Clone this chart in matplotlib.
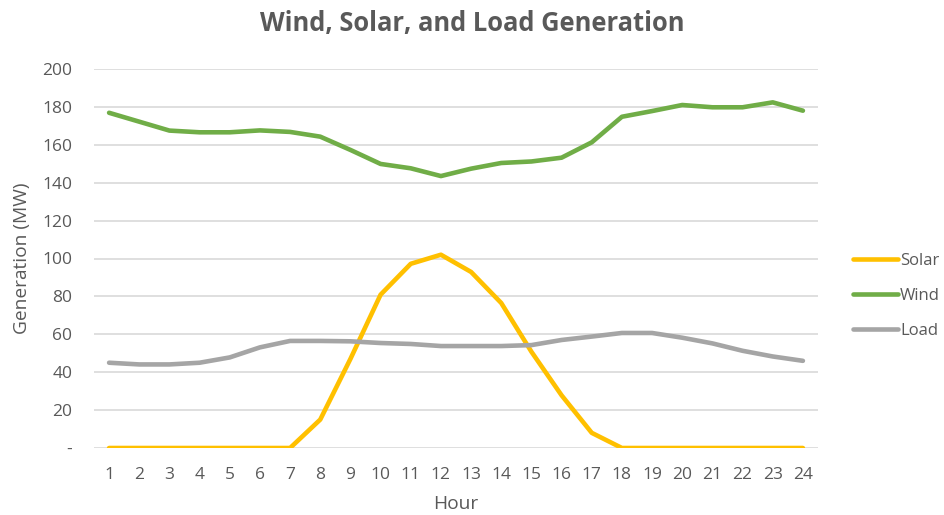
import matplotlib
matplotlib.use("Agg")
import matplotlib.pyplot as plt

hours = list(range(1, 25))
solar = [0, 0, 0, 0, 0, 0, 0, 15, 47, 80.9, 97.2, 102, 92.9, 76.5, 50.8, 27.8, 8, 0, 0, 0, 0, 0, 0, 0]
wind = [176.9, 172.2, 167.5, 166.6, 166.6, 167.6, 166.8, 164.3, 157.3, 149.9, 147.6, 143.5,
        147.4, 150.4, 151.2, 153.2, 161.3, 174.8, 177.8, 181, 179.8, 179.8, 182.4, 178]
load = [45, 44.1, 44.1, 45, 47.8, 53.1, 56.5, 56.5, 56.3, 55.4, 54.9, 53.8,
        53.8, 53.8, 54.3, 57, 58.8, 60.7, 60.7, 58.2, 55.2, 51.3, 48.3, 46]
yticks = [0, 20, 40, 60, 80, 100, 120, 140, 160, 180, 200]
ytick_labels = ["-", "20", "40", "60", "80", "100", "120", "140", "160", "180", "200"]

plt.rcParams['font.family'] = ['Open Sans', 'DejaVu Sans']
txt = '#595959'

fig = plt.figure(figsize=(9.44, 5.15), dpi=100)
ax = fig.add_axes([94/944, 1-448/515, (818-94)/944, (448-69)/515])

lw = 3.3
ax.plot(hours, solar, color='#FFC000', lw=lw, label='Solar', solid_capstyle='round', solid_joinstyle='round')
ax.plot(hours, wind, color='#70AD47', lw=lw, label='Wind', solid_capstyle='round', solid_joinstyle='round')
ax.plot(hours, load, color='#A5A5A5', lw=lw, label='Load', solid_capstyle='round', solid_joinstyle='round')

ax.set_xlim(0.5, 24.5)
ax.set_ylim(0, 200)
ax.set_yticks(yticks)
ax.set_yticklabels(ytick_labels)
ax.set_xticks(hours)
ax.set_xticklabels([str(h) for h in hours])
ax.grid(axis='y', color='#D9D9D9', lw=1.2)
ax.set_axisbelow(True)
for s in ax.spines.values():
    s.set_visible(False)
ax.tick_params(length=0, colors=txt, labelsize=12.5)
ax.tick_params(axis='y', pad=15.5)
ax.tick_params(axis='x', pad=14)
ax.set_xlabel('Hour', color=txt, fontsize=13.8, labelpad=8)
ax.set_ylabel('Generation (MW)', color=txt, fontsize=13.8, labelpad=8)

fig.text(472/944, 1-24/515, 'Wind, Solar, and Load Generation', ha='center', va='center',
         fontsize=18.4, fontweight='bold', color=txt)

leg = fig.legend(loc='center left', bbox_to_anchor=(840/944, 1-296/515), frameon=False,
                 fontsize=12, labelcolor=txt, handlelength=2.65, handletextpad=0.15,
                 labelspacing=1.15, borderpad=0.3)
plt.savefig('out.png', dpi=100)
